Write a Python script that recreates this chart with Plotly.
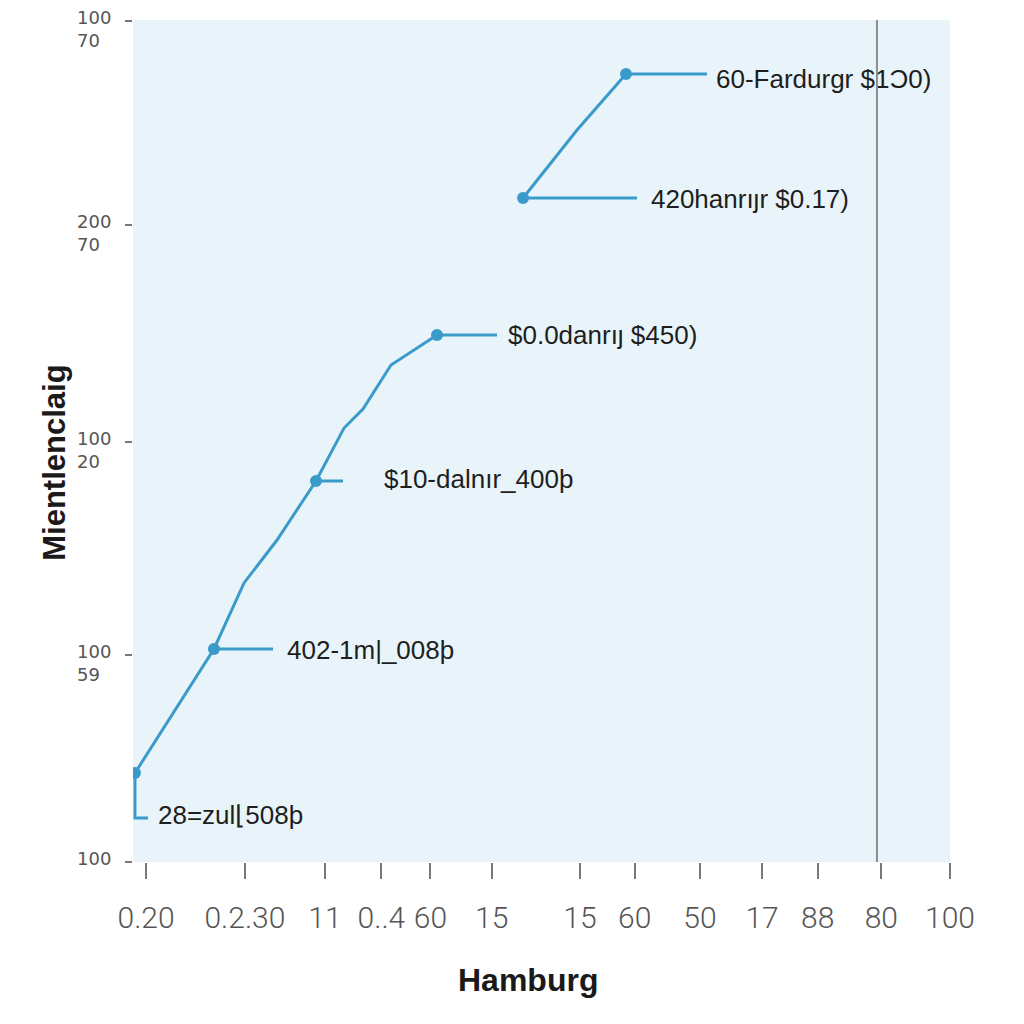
import plotly.graph_objects as go

# ---- data ----
seg1_x = [0.24, 9.91, 13.59, 17.63, 22.40, 25.83, 28.15, 31.58, 37.21]
seg1_y = [10.57, 25.30, 33.14, 38.24, 45.25, 51.54, 53.80, 59.03, 62.59]
seg2_x = [47.74, 54.35, 60.34]
seg2_y = [78.86, 86.94, 93.59]

marker_x = [0.24, 9.91, 22.40, 37.21, 47.74, 60.34]
marker_y = [10.57, 25.30, 45.25, 62.59, 78.86, 93.59]

labels = ["28=zul⌊508þ", "402-1m|_008þ", "$10-dalnır_400þ", "$0.0danrıȷ $450)",
          "420hanrıȷr $0.17)", "60-Fardurgr $1Ɔ0)"]
label_x = [3.06, 18.85, 30.72, 45.9, 63.4, 71.36]
label_y = [5.23, 24.94, 45.25, 62.35, 78.5, 92.75]
leader_end_x = [1.84, 17.14, 25.70, 44.55, 61.69, 70.26]
leader_y = [5.23, 25.30, 45.25, 62.59, 78.86, 93.59]

x_tick_vals = [1.6, 13.7, 23.5, 30.4, 36.4, 43.9, 54.7, 61.4, 69.4, 77.0, 83.8, 91.6, 100.0]
x_tick_text = ["0.20", "0.2.30", "11", "0..4", "60", "15", "15", "60", "50", "17", "88", "80", "100"]
y_tick_vals = [0, 24.6, 49.9, 75.7, 99.9]
y_tick_text = ["100", "100<br>59", "100<br>20", "200<br>70", "100<br>70"]

ref_line_x = 91.06

LINE = "#3a9bcb"

fig = go.Figure()
fig.add_trace(go.Scatter(x=seg1_x, y=seg1_y, mode="lines",
                         line=dict(color=LINE, width=3), hoverinfo="skip"))
fig.add_trace(go.Scatter(x=seg2_x, y=seg2_y, mode="lines",
                         line=dict(color=LINE, width=3), hoverinfo="skip"))

# leader lines
for i in range(len(labels)):
    if i == 0:
        xs = [marker_x[0], marker_x[0], leader_end_x[0]]
        ys = [marker_y[0], leader_y[0], leader_y[0]]
    else:
        xs = [marker_x[i], leader_end_x[i]]
        ys = [leader_y[i], leader_y[i]]
    fig.add_trace(go.Scatter(x=xs, y=ys, mode="lines",
                             line=dict(color=LINE, width=3), hoverinfo="skip"))

fig.add_trace(go.Scatter(x=marker_x, y=marker_y, mode="markers",
                         marker=dict(color=LINE, size=12), hoverinfo="skip"))

fig.add_trace(go.Scatter(x=label_x, y=label_y, mode="text", text=labels,
                         textposition="middle right",
                         textfont=dict(family="Liberation Sans", size=26, color="#1e1e1e"),
                         hoverinfo="skip"))

fig.add_shape(type="line", x0=ref_line_x, x1=ref_line_x, y0=0, y1=100,
              xref="x", yref="y", line=dict(color="#8a8f94", width=2))

# y tick labels as annotations (first line at the tick level, second below)
for v, t in zip(y_tick_vals, y_tick_text):
    fig.add_annotation(x=0, xref="paper", y=v, yref="y", text=t, showarrow=False,
                       xanchor="right", yanchor="top", xshift=-20, yshift=16,
                       align="left",
                       font=dict(family="DejaVu Sans", size=18, color="#555555"))

# axis titles
fig.add_annotation(x=0.483, xref="paper", y=-0.14, yref="paper", text="<b>Hamburg</b>",
                   showarrow=False, xanchor="center", yanchor="middle",
                   font=dict(family="Liberation Sans", size=32, color="#1a1a1a"))
fig.add_annotation(x=-0.097, xref="paper", y=0.5, yref="paper", text="<b>Mientlenclaig</b>",
                   showarrow=False, xanchor="center", yanchor="middle", textangle=-90,
                   yshift=-22,
                   font=dict(family="Liberation Sans", size=31, color="#1a1a1a"))

fig.update_layout(
    width=1024, height=1024,
    margin=dict(l=125, r=82, t=12, b=170),
    paper_bgcolor="white", plot_bgcolor="#e8f4f9",
    showlegend=False,
    xaxis=dict(range=[0, 100], showgrid=False, zeroline=False, showline=False,
               tickmode="array", tickvals=x_tick_vals, ticktext=x_tick_text,
               ticks="outside", ticklen=16, tickwidth=1.5, tickcolor="#777777",
               tickfont=dict(family="Roboto", size=30, color="#555555", weight=300),
               ticklabelstandoff=13, automargin=False),
    yaxis=dict(range=[0, 100], showgrid=False, zeroline=False, showline=False,
               tickmode="array", tickvals=y_tick_vals, ticktext=[""] * len(y_tick_vals),
               ticks="outside", ticklen=7, tickwidth=1.5, tickcolor="#777777",
               automargin=False),
)

fig.write_html("out.html")
